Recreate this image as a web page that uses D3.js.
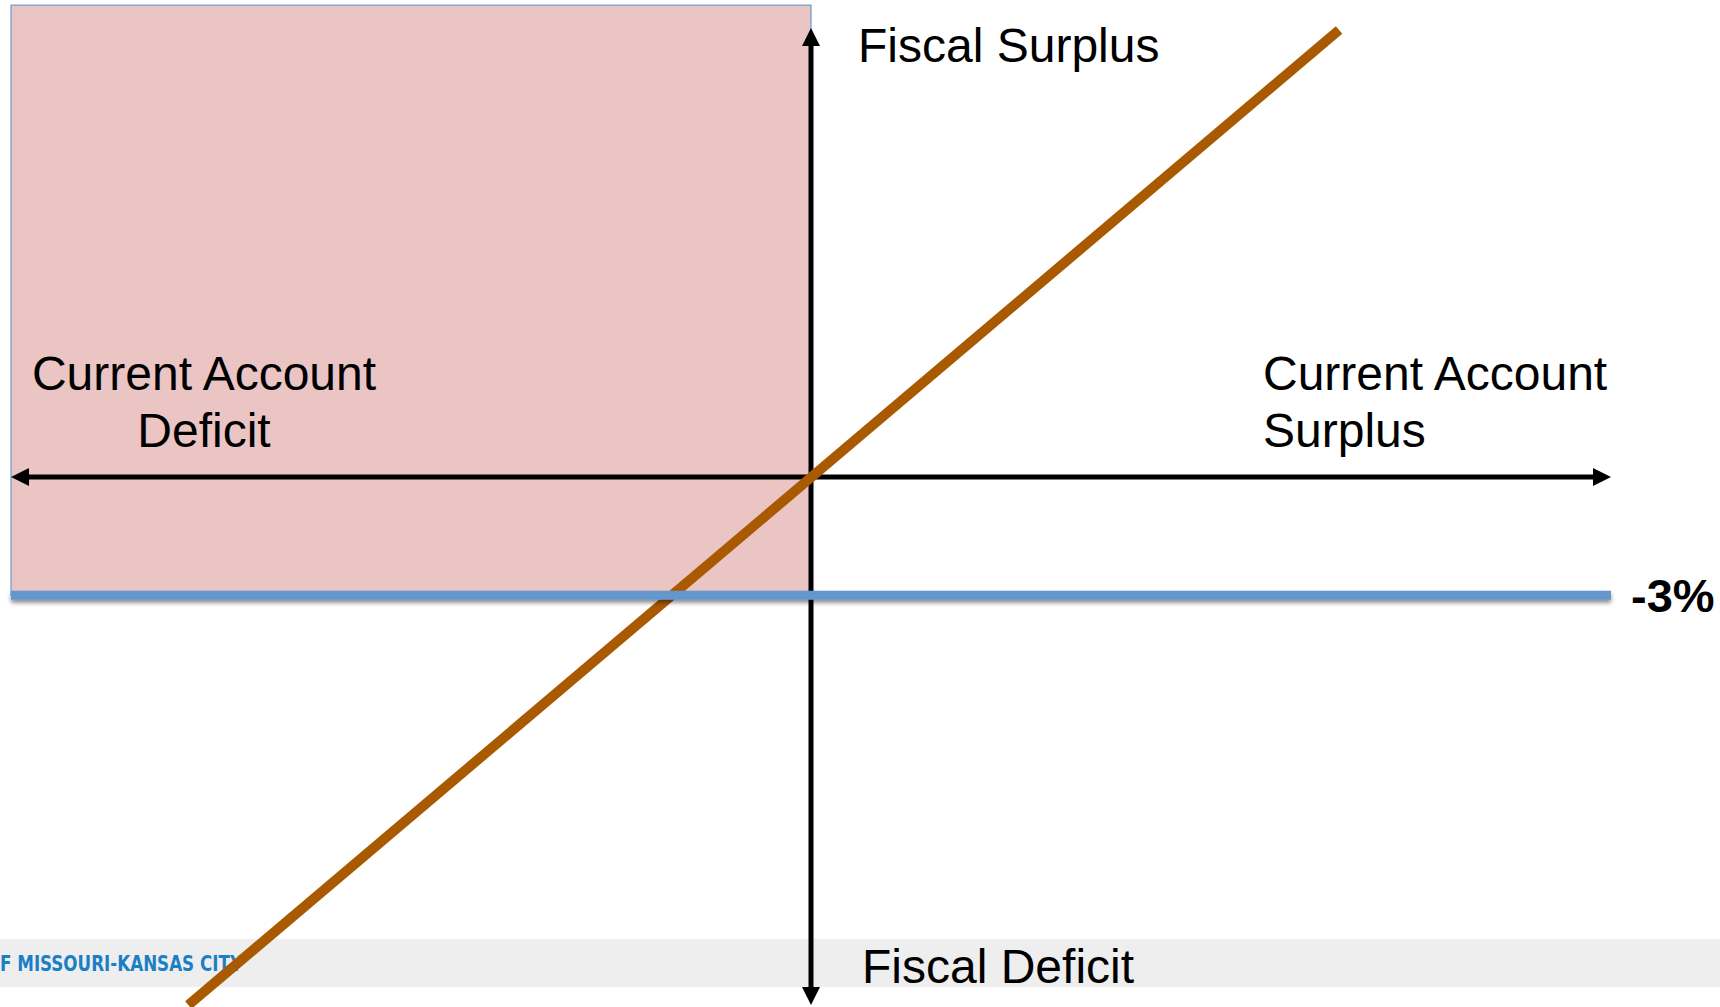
<!DOCTYPE html>
<html>
<head>
<meta charset="utf-8">
<script src="https://cdn.jsdelivr.net/npm/d3@7"></script>
<style>
  body { margin: 0; background: #fff; }
  svg { display: block; }
  text { font-family: "Liberation Sans", Arial, sans-serif; }
</style>
</head>
<body>
<script>
var width = 1720;
var height = 1007;

// axis extents (data units, origin = balanced budget / balanced current account)
var xExtent = [-20.3, 20.3];
var yExtent = [-13.4, 11.4];

// shaded region: current account deficit, fiscal deficit above the -3% limit
var deficitRegion = [ { x0: -20.3, x1: 0, y0: -3, y1: 11.98 } ];

// the -3% fiscal deficit limit
var limitValue = -3;
var limitLine = [ [-20.3, -3], [20.3, -3] ];

// fiscal balance vs current account relation
var relationLine = [ [-15.8, -13.4], [13.4, 11.35] ];

var axisLabels = {
    top: "Fiscal Surplus",
    bottom: "Fiscal Deficit",
    left: ["Current Account", "Deficit"],
    right: ["Current Account", "Surplus"],
    limit: "-3%"
};
var footerText = "F MISSOURI-KANSAS CITY";

var svg = d3.select("body").append("svg")
            .attr("width", width)
            .attr("height", height);

var xScale = d3.scaleLinear().domain(xExtent).range([11, 1611]);
var yScale = d3.scaleLinear().domain(yExtent).range([1005, 28]);

var defs = svg.append("defs");
var shadow = defs.append("filter").attr("id", "shadow")
    .attr("filterUnits", "userSpaceOnUse")
    .attr("x", 0).attr("y", 560).attr("width", width).attr("height", 80);
shadow.append("feDropShadow")
    .attr("dx", 0).attr("dy", 3).attr("stdDeviation", 2)
    .attr("flood-color", "#000").attr("flood-opacity", 0.45);

// footer band
svg.append("rect")
   .attr("x", 0).attr("y", 939)
   .attr("width", width).attr("height", 48)
   .attr("fill", "#eeeeee");
svg.append("text")
   .attr("x", 0).attr("y", 971)
   .attr("fill", "#1b7fc6")
   .style("font-family", "'Liberation Sans Narrow', 'DejaVu Sans Condensed', sans-serif")
   .style("font-weight", "bold")
   .style("font-size", "22px")
   .attr("textLength", 242)
   .attr("lengthAdjust", "spacingAndGlyphs")
   .text(footerText);

// shaded region
svg.selectAll("rect.region")
   .data(deficitRegion)
   .enter()
   .append("rect")
   .attr("class", "region")
   .attr("x", function(d) { return xScale(d.x0); })
   .attr("y", function(d) { return yScale(d.y1); })
   .attr("width", function(d) { return xScale(d.x1) - xScale(d.x0); })
   .attr("height", function(d) { return yScale(d.y0) - yScale(d.y1); })
   .attr("fill", "#ebc4c4")
   .attr("stroke", "#6a9bd0")
   .attr("stroke-width", 1.2);

// axes with arrowheads
var x0 = xScale(0), y0 = yScale(0);
var head = 18, half = 9;
var axes = svg.append("g").attr("fill", "#000").attr("stroke", "#000");
axes.append("line")
    .attr("x1", xScale(xExtent[0]) + head).attr("x2", xScale(xExtent[1]) - head)
    .attr("y1", y0).attr("y2", y0)
    .attr("stroke-width", 5);
axes.append("line")
    .attr("x1", x0).attr("x2", x0)
    .attr("y1", yScale(yExtent[1]) + head).attr("y2", yScale(yExtent[0]) - head)
    .attr("stroke-width", 5);
var heads = [
    [[xScale(xExtent[0]), y0], [xScale(xExtent[0]) + head, y0 - half], [xScale(xExtent[0]) + head, y0 + half]],
    [[xScale(xExtent[1]), y0], [xScale(xExtent[1]) - head, y0 - half], [xScale(xExtent[1]) - head, y0 + half]],
    [[x0, yScale(yExtent[1])], [x0 - half, yScale(yExtent[1]) + head], [x0 + half, yScale(yExtent[1]) + head]],
    [[x0, yScale(yExtent[0])], [x0 - half, yScale(yExtent[0]) - head], [x0 + half, yScale(yExtent[0]) - head]]
];
axes.selectAll("path")
    .data(heads)
    .enter()
    .append("path")
    .attr("stroke", "none")
    .attr("d", function(d) { return "M" + d.join("L") + "Z"; });

// relation line
var line = d3.line()
    .x(function(d) { return xScale(d[0]); })
    .y(function(d) { return yScale(d[1]); });
svg.append("path")
   .datum(relationLine)
   .attr("d", line)
   .attr("fill", "none")
   .attr("stroke", "#a95a00")
   .attr("stroke-width", 10);

// -3% limit
svg.append("path")
   .datum(limitLine)
   .attr("d", line)
   .attr("fill", "none")
   .attr("stroke", "#6497cd")
   .attr("stroke-width", 9)
   .attr("filter", "url(#shadow)");

// labels
svg.append("text")
   .attr("x", x0 + 47).attr("y", 62)
   .style("font-size", "48px")
   .text(axisLabels.top);
svg.append("text")
   .attr("x", x0 + 51).attr("y", 983)
   .style("font-size", "48px")
   .text(axisLabels.bottom);

svg.append("text")
   .attr("x", 204).attr("y", 390)
   .style("font-size", "48px")
   .style("text-anchor", "middle")
   .selectAll("tspan")
   .data(axisLabels.left)
   .enter()
   .append("tspan")
   .attr("x", 204)
   .attr("dy", function(d, i) { return i ? 57 : 0; })
   .text(function(d) { return d; });

svg.append("text")
   .attr("x", 1263).attr("y", 390)
   .style("font-size", "48px")
   .selectAll("tspan")
   .data(axisLabels.right)
   .enter()
   .append("tspan")
   .attr("x", 1263)
   .attr("dy", function(d, i) { return i ? 57 : 0; })
   .text(function(d) { return d; });

svg.append("text")
   .attr("x", xScale(xExtent[1]) + 20).attr("y", yScale(limitValue) + 17)
   .style("font-size", "47px")
   .style("font-weight", "bold")
   .text(axisLabels.limit);
</script>
</body>
</html>
